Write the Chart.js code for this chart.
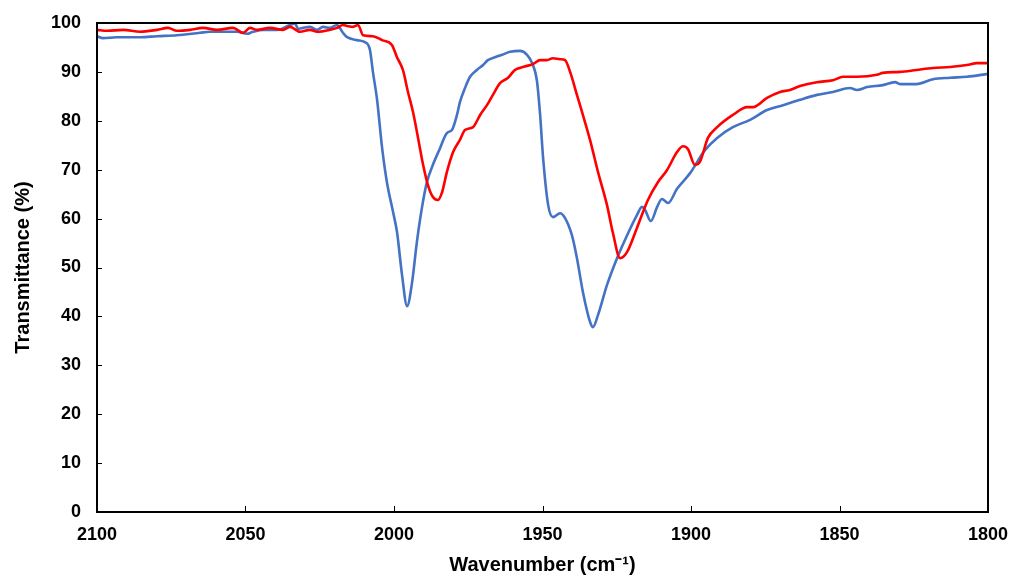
<!DOCTYPE html>
<html>
<head>
<meta charset="utf-8">
<script src="https://cdn.jsdelivr.net/npm/chart.js@4.4.0/dist/chart.umd.min.js"></script>
<style>
  html, body { margin: 0; padding: 0; background: #fff; }
  #wrap { width: 1010px; height: 580px; }
</style>
</head>
<body>
<div id="wrap"><canvas id="irChart" width="1010" height="580"></canvas></div>
<script>
// blue spectrum (wavenumber, transmittance)
const blueWavenumber = [2100, 2098.0, 2093.3, 2085.5, 2079.8, 2073.1, 2065.3, 2062.0, 2057.6, 2052.9,
  2049.5, 2047.5, 2044.1, 2039.4, 2035.0, 2033.3, 2032.3, 2030.6, 2028.3, 2025.9, 2023.9, 2021.5,
  2019.2, 2017.2, 2015.8, 2012.5, 2009.8, 2008.1, 2007.1, 2005.7, 2004.0, 2002.4, 2000.3, 1999.0,
  1997.3, 1995.6, 1993.9, 1992.3, 1990.6, 1988.9, 1986.9, 1984.5, 1982.2, 1980.5, 1978.8, 1977.8,
  1976.1, 1974.4, 1972.1, 1970.0, 1968.4, 1966.0, 1963.6, 1960.9, 1957.6, 1955.2, 1953.5, 1951.9,
  1950.8, 1949.8, 1948.1, 1946.5, 1944.1, 1942.4, 1940.1, 1938.4, 1936.4, 1934.0, 1933.0, 1931.3,
  1928.3, 1924.9, 1921.5, 1918.2, 1916.5, 1915.5, 1913.5, 1911.4, 1909.8, 1907.7, 1904.7, 1900.3,
  1895.3, 1891.2, 1885.9, 1880.1, 1874.4, 1869.0, 1863.3, 1857.6, 1852.2, 1846.5, 1844.1, 1840.7,
  1835.4, 1831.3, 1829.6, 1824.1, 1818.5, 1812.8, 1807.1, 1800];
const blueT = [97.3, 96.9, 97.1, 97.1, 97.3, 97.5, 98.0, 98.2, 98.2, 98.2,
  97.8, 98.2, 98.6, 98.6, 99.6, 99.9, 98.8, 99.0, 99.2, 98.6, 99.2, 99.0,
  99.6, 98.0, 97.1, 96.5, 96.1, 94.5, 90.0, 84.3, 74.4, 67.5, 61.3, 57.3,
  48.5, 42.1, 47.0, 55.2, 62.2, 67.5, 71.0, 74.4, 77.5, 78.1, 81.2, 83.8,
  86.7, 89.0, 90.4, 91.4, 92.4, 93.0, 93.5, 94.1, 94.3, 93.5, 91.8, 88.3,
  81.2, 72.4, 62.8, 60.3, 61.1, 60.1, 56.6, 51.9, 45.0, 38.9, 37.8, 40.3,
  46.4, 51.9, 56.6, 60.7, 62.4, 61.8, 59.5, 62.4, 64.0, 63.2, 66.1, 69.3,
  74.0, 76.5, 78.7, 80.2, 82.2, 83.2, 84.3, 85.3, 85.9, 86.7, 86.3, 86.9,
  87.3, 87.9, 87.5, 87.5, 88.5, 88.8, 89.0, 89.6];

// red spectrum (wavenumber, transmittance)
const redWavenumber = [2100, 2096.6, 2091.2, 2085.5, 2079.8, 2076.1, 2073.1, 2068.7, 2064.3, 2059.6,
  2054.2, 2050.8, 2048.5, 2046.1, 2041.8, 2037.4, 2035.0, 2031.6, 2028.3, 2025.9, 2021.5, 2019.2,
  2017.2, 2015.8, 2013.8, 2012.1, 2010.4, 2007.1, 2004.0, 2000.7, 1999.0, 1997.0, 1995.3, 1993.6,
  1991.9, 1990.2, 1988.6, 1986.9, 1985.2, 1983.8, 1982.2, 1980.1, 1977.8, 1976.1, 1973.4, 1971.0,
  1968.7, 1966.7, 1964.3, 1961.6, 1959.3, 1956.6, 1953.2, 1950.8, 1948.5, 1946.5, 1944.1, 1942.4,
  1940.7, 1938.4, 1936.4, 1934.0, 1931.3, 1928.3, 1926.3, 1923.9, 1921.5, 1918.2, 1914.5, 1911.1,
  1908.1, 1904.7, 1902.7, 1901.0, 1898.7, 1897.0, 1894.3, 1891.2, 1885.9, 1881.1, 1879.1, 1874.4,
  1870.0, 1866.7, 1863.3, 1857.6, 1852.2, 1848.8, 1844.1, 1837.4, 1835.4, 1829.6, 1824.1, 1818.5,
  1812.8, 1807.1, 1803.7, 1800];
const redT = [98.6, 98.4, 98.6, 98.2, 98.6, 99.0, 98.4, 98.6, 99.0, 98.6,
  99.0, 98.0, 99.0, 98.6, 99.0, 98.6, 99.2, 98.2, 98.6, 98.2, 98.6, 99.0,
  99.6, 99.4, 99.2, 99.6, 97.5, 97.3, 96.5, 95.5, 93.0, 90.4, 85.9, 81.8,
  76.5, 71.0, 66.9, 64.4, 63.8, 65.4, 69.5, 73.6, 76.1, 78.1, 78.7, 81.2,
  83.2, 85.3, 87.7, 88.8, 90.4, 91.0, 91.6, 92.4, 92.4, 92.8, 92.6, 92.4,
  90.0, 85.3, 81.2, 76.1, 69.5, 62.8, 57.1, 51.9, 53.2, 58.1, 63.8, 67.5,
  69.9, 73.6, 74.8, 74.2, 71.0, 71.6, 76.5, 78.7, 81.2, 82.8, 82.8, 84.7,
  85.9, 86.3, 87.1, 87.9, 88.3, 89.0, 89.0, 89.4, 89.8, 90.0, 90.4, 90.8,
  91.0, 91.4, 91.8, 91.8];

const xTicks = [2100, 2050, 2000, 1950, 1900, 1850, 1800];
const yTicks = [0, 10, 20, 30, 40, 50, 60, 70, 80, 90, 100];

function toPoints(xs, ys) {
    return xs.map((x, i) => ({ x: x, y: ys[i] }));
}

// frame round the plot plus short inward tick marks
const framePlugin = {
    id: 'frame',
    afterDatasetsDraw(chart) {
        const ctx = chart.ctx;
        const a = chart.chartArea;
        const xs = chart.scales.x, ys = chart.scales.y;
        ctx.save();
        ctx.strokeStyle = '#000';
        ctx.lineWidth = 1;
        xTicks.forEach(v => {
            const px = Math.round(xs.getPixelForValue(v)) + 0.5;
            ctx.beginPath();
            ctx.moveTo(px, a.bottom);
            ctx.lineTo(px, a.bottom - 6);
            ctx.stroke();
        });
        yTicks.forEach(v => {
            const py = Math.round(ys.getPixelForValue(v)) + 0.5;
            ctx.beginPath();
            ctx.moveTo(a.left, py);
            ctx.lineTo(a.left + 5, py);
            ctx.stroke();
        });
        ctx.lineWidth = 2;
        ctx.strokeRect(a.left, a.top, a.right - a.left, a.bottom - a.top);
        ctx.restore();
    }
};

const tickFont = { family: 'Liberation Sans, Arial, sans-serif', size: 18, weight: 'bold' };
const titleFont = { family: 'Liberation Sans, Arial, sans-serif', size: 20, weight: 'bold' };

new Chart(document.getElementById('irChart').getContext('2d'), {
    type: 'line',
    data: {
        datasets: [{
            label: 'red',
            data: toPoints(redWavenumber, redT),
            borderColor: '#FF0000',
            borderWidth: 2.6,
            pointRadius: 0,
            cubicInterpolationMode: 'monotone',
            fill: false
        }, {
            label: 'blue',
            data: toPoints(blueWavenumber, blueT),
            borderColor: '#4472C4',
            borderWidth: 2.6,
            pointRadius: 0,
            cubicInterpolationMode: 'monotone',
            fill: false
        }]
    },
    options: {
        responsive: false,
        animation: false,
        events: [],
        layout: { padding: { left: 0, top: 23, right: 22, bottom: 0 } },
        plugins: {
            legend: { display: false },
            tooltip: { enabled: false }
        },
        scales: {
            x: {
                type: 'linear',
                reverse: true,
                min: 1800,
                max: 2100,
                afterBuildTicks: scale => { scale.ticks = xTicks.map(v => ({ value: v })); },
                afterFit: scale => {
                    scale.height = 68;
                    scale.paddingLeft = 0;
                    scale.paddingRight = 0;
                },
                grid: { display: false, drawTicks: false },
                border: { display: false },
                ticks: {
                    color: '#000',
                    font: tickFont,
                    padding: 12,
                    maxRotation: 0,
                    callback: v => String(v)
                },
                title: {
                    display: true,
                    text: 'Wavenumber (cm⁻¹)',
                    color: '#000',
                    font: titleFont,
                    padding: { top: 0, bottom: 3 }
                }
            },
            y: {
                min: 0,
                max: 100,
                afterBuildTicks: scale => { scale.ticks = yTicks.map(v => ({ value: v })); },
                afterFit: scale => {
                    scale.width = 97;
                    scale.paddingTop = 0;
                    scale.paddingBottom = 0;
                },
                grid: { display: false, drawTicks: false },
                border: { display: false },
                ticks: { color: '#000', font: tickFont, padding: 16, callback: v => String(v) },
                title: {
                    display: true,
                    text: 'Transmittance (%)',
                    color: '#000',
                    font: titleFont,
                    padding: { top: 11, bottom: 0 }
                }
            }
        }
    },
    plugins: [framePlugin]
});
</script>
</body>
</html>
